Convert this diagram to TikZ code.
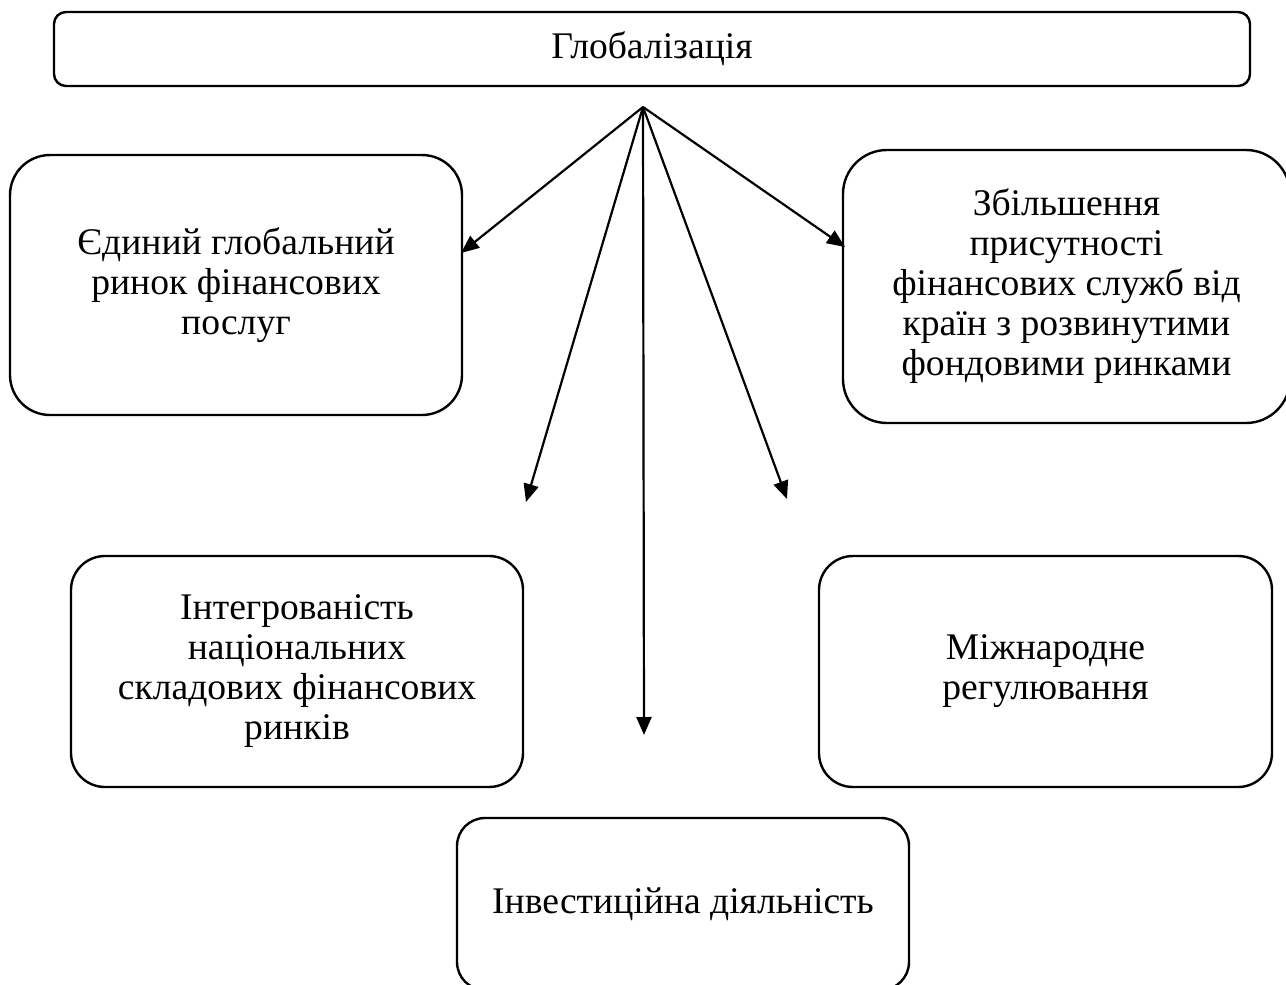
\documentclass[tikz,border=0pt]{standalone}
\usepackage{fontspec}
\setmainfont{Liberation Serif}
\usetikzlibrary{arrows.meta}
\tikzset{
  box/.style={draw=black, line width=1.2pt, align=center, inner sep=0pt,
    font=\fontsize{18.8pt}{20pt}\selectfont},
  conn/.style={line width=1.1pt, -{Triangle[length=9pt,width=7.5pt]}}
}
\begin{document}
\begin{tikzpicture}[x=0.5pt,y=-0.5pt]
\useasboundingbox (0,0) rectangle (1286,985);
\node[box, minimum width=598pt, minimum height=37pt, rounded corners=6pt] (glob) at (652,49) {Глобалізація};
\node[box, minimum width=226pt, minimum height=130pt, rounded corners=20pt] (b1) at (236,285)
  {Єдиний глобальний\\ринок фінансових\\послуг};
\node[box, minimum width=223.5pt, minimum height=136.5pt, rounded corners=22pt] (b2) at (1066.5,286.5)
  {Збільшення\\присутності\\фінансових служб від\\країн з розвинутими\\фондовими ринками};
\node[box, minimum width=226pt, minimum height=115.5pt, rounded corners=17pt] (b3) at (297,671.5)
  {Інтегрованість\\національних\\складових фінансових\\ринків};
\node[box, minimum width=226.5pt, minimum height=115.5pt, rounded corners=17pt] (b4) at (1045.5,671.5)
  {Міжнародне\\регулювання};
\node[box, minimum width=226pt, minimum height=86pt, rounded corners=14pt] (b5) at (683,904)
  {Інвестиційна діяльність};
\coordinate (o) at (643,107);
\coordinate (e1) at (461,253);
\coordinate (e2) at (845,247);
\coordinate (e3) at (526,502);
\coordinate (e4) at (644,735);
\coordinate (e5) at (787,499);
\draw[conn] (o) -- (e1);
\draw[conn] (o) -- (e2);
\draw[conn] (o) -- (e3);
\draw[conn] (o) -- (e4);
\draw[conn] (o) -- (e5);
\end{tikzpicture}
\end{document}
